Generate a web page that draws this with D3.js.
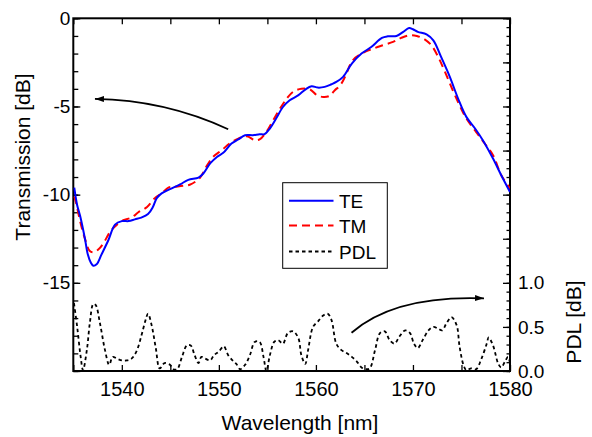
<!DOCTYPE html>
<html><head><meta charset="utf-8">
<script src="https://cdn.jsdelivr.net/npm/d3@7"></script>
<style>
body{margin:0;background:#fff}
svg{display:block}
text{font-family:"Liberation Sans",Arial,Helvetica,sans-serif;fill:#000}
</style>
</head><body>
<svg id="c" width="592" height="437"></svg>
<script>
// ---- data ----
const teWl=[1535.1,1535.4,1535.7,1536.2,1536.5,1536.8,1537.06,1537.4,1537.9,1538.6,1539.3,1540.0,1540.7,1541.35,1542.0,1542.7,1543.2,1543.6,1544.1,1544.96,1546.0,1546.85,1547.9,1548.4,1549.1,1549.8,1550.45,1551.3,1552.0,1552.7,1553.5,1554.2,1554.7,1555.25,1555.9,1556.6,1557.3,1558.2,1558.9,1559.55,1560.2,1560.9,1561.6,1562.1,1562.8,1563.7,1564.7,1565.7,1566.8,1567.4,1568.3,1569.0,1569.6,1570.0,1570.5,1571.4,1572.1,1572.9,1573.8,1574.65,1575.5,1576.4,1577.2,1578.25,1579.1,1580];
const teDb=[-9.6,-10.6,-11.2,-12.5,-13.4,-13.85,-14.03,-13.95,-13.4,-12.6,-11.7,-11.5,-11.5,-11.4,-11.3,-11.1,-10.7,-10.2,-9.93,-9.69,-9.42,-9.16,-9.03,-8.8,-8.23,-7.86,-7.63,-7.1,-6.87,-6.63,-6.63,-6.57,-6.57,-6.25,-5.68,-5.03,-4.65,-4.36,-4.04,-3.85,-3.93,-3.89,-3.74,-3.61,-3.32,-2.57,-2.0,-1.63,-1.11,-1.02,-1.0,-0.77,-0.55,-0.62,-0.77,-0.91,-1.25,-2.19,-3.32,-4.55,-5.59,-6.25,-6.91,-7.95,-8.9,-9.85];
const tmWl=[1535.1,1535.3,1535.7,1536.2,1536.7,1537.1,1537.6,1538.1,1538.8,1539.5,1540.15,1541.0,1541.7,1542.6,1543.4,1544.1,1544.8,1545.3,1546.3,1547.0,1548.05,1548.7,1549.4,1550.3,1551.1,1552.0,1552.9,1553.7,1554.2,1554.9,1555.6,1556.3,1557.0,1557.65,1558.5,1559.4,1560.1,1560.75,1561.4,1561.95,1562.5,1563.0,1563.8,1564.9,1565.9,1566.9,1567.95,1568.8,1569.7,1570.4,1571.2,1571.9,1572.6,1573.3,1574.1,1574.8,1575.5,1576.5,1577.4,1578.25,1579.1,1580];
const tmDb=[-10.1,-10.5,-11.5,-12.5,-13.2,-13.27,-13.1,-12.76,-12.1,-11.7,-11.45,-11.3,-11.0,-10.7,-10.2,-9.93,-9.6,-9.56,-9.5,-9.44,-9.04,-8.42,-7.86,-7.48,-7.1,-6.82,-6.69,-6.91,-6.87,-6.44,-5.78,-5.12,-4.55,-4.17,-4.0,-4.04,-4.36,-4.46,-4.4,-4.08,-3.8,-3.32,-2.38,-1.95,-1.72,-1.53,-1.34,-1.11,-0.96,-1.0,-1.19,-1.53,-2.19,-3.04,-4.08,-4.93,-5.68,-6.44,-7.1,-7.76,-8.9,-9.65];
const pdlWl=[1535.07,1535.4,1535.76,1536.0,1536.4,1536.7,1537.06,1537.3,1537.75,1538.26,1538.7,1539.06,1539.5,1540.0,1540.5,1541.0,1541.5,1542.04,1542.4,1542.7,1543.07,1543.5,1543.9,1544.4,1544.96,1545.3,1545.7,1546.2,1546.7,1547.1,1547.5,1547.9,1548.2,1548.6,1549.1,1549.5,1550.0,1550.5,1550.96,1551.5,1551.8,1552.2,1552.7,1553.2,1553.7,1554.2,1554.6,1554.9,1555.26,1555.7,1556.1,1556.6,1557.1,1557.66,1558.2,1558.5,1558.9,1559.2,1559.7,1560.2,1560.75,1561.2,1561.6,1562.1,1562.6,1563.2,1563.7,1564.2,1564.7,1565.2,1565.56,1566.1,1566.6,1567.1,1567.6,1568.1,1568.6,1569.2,1569.7,1570.1,1570.5,1571.0,1571.6,1572.1,1572.6,1573.0,1573.45,1573.97,1574.5,1574.8,1575.2,1575.5,1576.0,1576.5,1577.06,1577.6,1577.8,1578.25,1578.8,1579.1,1579.5,1579.8,1580];
const pdlDb=[0.77,0.50,0.16,0.01,0.24,0.54,0.76,0.75,0.54,0.24,0.07,0.16,0.14,0.12,0.12,0.14,0.22,0.41,0.56,0.65,0.52,0.26,0.03,0.09,0.07,0.02,0.02,0.16,0.29,0.29,0.18,0.09,0.16,0.14,0.12,0.18,0.22,0.28,0.18,0.11,0.08,0.02,0.07,0.18,0.33,0.33,0.16,0.0,0.18,0.33,0.35,0.31,0.43,0.45,0.37,0.18,0.08,0.24,0.50,0.56,0.63,0.65,0.58,0.31,0.24,0.20,0.16,0.11,0.04,0.02,0.03,0.24,0.43,0.45,0.35,0.31,0.39,0.46,0.43,0.31,0.26,0.35,0.46,0.50,0.48,0.46,0.54,0.61,0.52,0.28,0.07,0.01,0.03,0.02,0.14,0.31,0.38,0.29,0.08,0.04,0.11,0.16,0.09];
const xTicks=[1535,1540,1545,1550,1555,1560,1565,1570,1575,1580];
const xLabels=[1540,1550,1560,1570,1580];
const yLeftLabels=[-15,-10,-5,0];
const yRightLabels=[0,0.5,1.0];
const seriesNames=["TE","TM","PDL"];

// ---- layout ----
const L=73.3,T=18.3,R=510,B=371;
const svg=d3.select("#c");
const x=d3.scaleLinear().domain([1535,1580]).range([L,R]);
const yL=d3.scaleLinear().domain([-20,0]).range([B,T]);
const yR=d3.scaleLinear().domain([0,4]).range([B,T]);

svg.append("defs").append("clipPath").attr("id","clip")
  .append("rect").attr("x",L).attr("y",T).attr("width",R-L).attr("height",B-T);

function styleAxis(g,fs){
  g.select(".domain").remove();
  g.selectAll(".tick line").attr("stroke","#000").attr("stroke-width",1.3);
  g.selectAll("text").style("font-size",fs+"px").attr("fill","#000");
}
// bottom & top
svg.append("g").attr("transform",`translate(0,${B})`)
  .call(d3.axisBottom(x).tickValues(xTicks).tickSize(-6).tickPadding(11)
     .tickFormat(d=>xLabels.includes(d)?String(d):""))
  .call(g=>styleAxis(g,20));
svg.append("g").attr("transform",`translate(0,${T})`)
  .call(d3.axisTop(x).tickValues(xTicks).tickSize(-6).tickFormat(""))
  .call(g=>styleAxis(g,20));
// left
svg.append("g").attr("transform",`translate(${L},0)`)
  .call(d3.axisLeft(yL).tickValues(d3.range(-20,1)).tickSize(-5).tickFormat(""))
  .call(g=>styleAxis(g,19));
svg.append("g").attr("transform",`translate(${L},0)`)
  .call(d3.axisLeft(yL).tickValues(d3.range(-20,1,5)).tickSize(-7).tickPadding(3)
     .tickFormat(d=>yLeftLabels.includes(d)?String(d):""))
  .call(g=>styleAxis(g,19));
// right
svg.append("g").attr("transform",`translate(${R},0)`)
  .call(d3.axisRight(yR).tickValues(d3.range(0,40.5,1).map(v=>v/10)).tickSize(-3.5).tickFormat(""))
  .call(g=>styleAxis(g,19));
svg.append("g").attr("transform",`translate(${R},0)`)
  .call(d3.axisRight(yR).tickValues(d3.range(0,8.5,1).map(v=>v/2)).tickSize(-7).tickPadding(8)
     .tickFormat(d=>yRightLabels.includes(d)?d.toFixed(1):""))
  .call(g=>styleAxis(g,19));

// frame
svg.append("rect").attr("x",L).attr("y",T).attr("width",R-L).attr("height",B-T)
  .attr("fill","none").attr("stroke","#000").attr("stroke-width",2);

// curves
const plot=svg.append("g").attr("clip-path","url(#clip)");
const lineL=d3.line().x(d=>x(d[0])).y(d=>yL(d[1])).curve(d3.curveCatmullRom.alpha(0.5));
const lineR=d3.line().x(d=>x(d[0])).y(d=>yR(d[1])).curve(d3.curveCatmullRom.alpha(0.5));
plot.append("path").datum(d3.zip(pdlWl,pdlDb)).attr("d",lineR)
  .attr("fill","none").attr("stroke","#000").attr("stroke-width",1.8).attr("stroke-dasharray","3.5,3");
plot.append("path").datum(d3.zip(tmWl,tmDb)).attr("d",lineL)
  .attr("fill","none").attr("stroke","#ff0000").attr("stroke-width",2).attr("stroke-dasharray","8,5");
plot.append("path").datum(d3.zip(teWl,teDb)).attr("d",lineL)
  .attr("fill","none").attr("stroke","#0000ff").attr("stroke-width",2);

// arrows (annotation, in data units)
svg.select("defs").append("marker").attr("id","ah").attr("markerUnits","userSpaceOnUse")
  .attr("markerWidth",10).attr("markerHeight",8).attr("refX",9).attr("refY",3).attr("orient","auto")
  .append("path").attr("d","M0,0 L9,3 L0,6 Z").attr("fill","#000");
const arrowLeft={from:[1550.96,-6.29],ctrl:[1544.44,-4.63],to:[1537.23,-4.57]};
const arrowRight={from:[1563.67,0.434],ctrl:[1568.1,0.861],to:[1577.32,0.824]};
function arrow(a,ys){
  const p=d3.path();
  p.moveTo(x(a.from[0]),ys(a.from[1]));
  p.quadraticCurveTo(x(a.ctrl[0]),ys(a.ctrl[1]),x(a.to[0]),ys(a.to[1]));
  svg.append("path").attr("d",p.toString()).attr("fill","none").attr("stroke","#000")
    .attr("stroke-width",1.8).attr("marker-end","url(#ah)");
}
arrow(arrowLeft,yL);
arrow(arrowRight,yR);

// legend
const lg=svg.append("g");
lg.append("rect").attr("x",282.7).attr("y",182.7).attr("width",104.6).attr("height",85.6)
  .attr("fill","#fff").attr("stroke","#000").attr("stroke-width",1);
const lgStyles=[{c:"#0000ff",d:null,w:2},{c:"#ff0000",d:"8,5",w:2},{c:"#000",d:"3.5,3",w:1.8}];
const lgY=[200.7,225.5,251.5];
seriesNames.forEach((n,i)=>{
  lg.append("line").attr("x1",289).attr("x2",333.5).attr("y1",lgY[i]).attr("y2",lgY[i])
    .attr("stroke",lgStyles[i].c).attr("stroke-width",lgStyles[i].w)
    .attr("stroke-dasharray",lgStyles[i].d);
  lg.append("text").attr("x",339).attr("y",lgY[i]+7).style("font-size","19px").text(n);
});

// titles
svg.append("text").attr("x",300).attr("y",430).attr("text-anchor","middle")
  .style("font-size","21px").text("Wavelength [nm]");
svg.append("text").attr("transform","translate(30,157) rotate(-90)").attr("text-anchor","middle")
  .style("font-size","21px").text("Transmission [dB]");
svg.append("text").attr("transform","translate(581,322) rotate(-90)").attr("text-anchor","middle")
  .style("font-size","21px").text("PDL [dB]");
</script>
</body></html>
